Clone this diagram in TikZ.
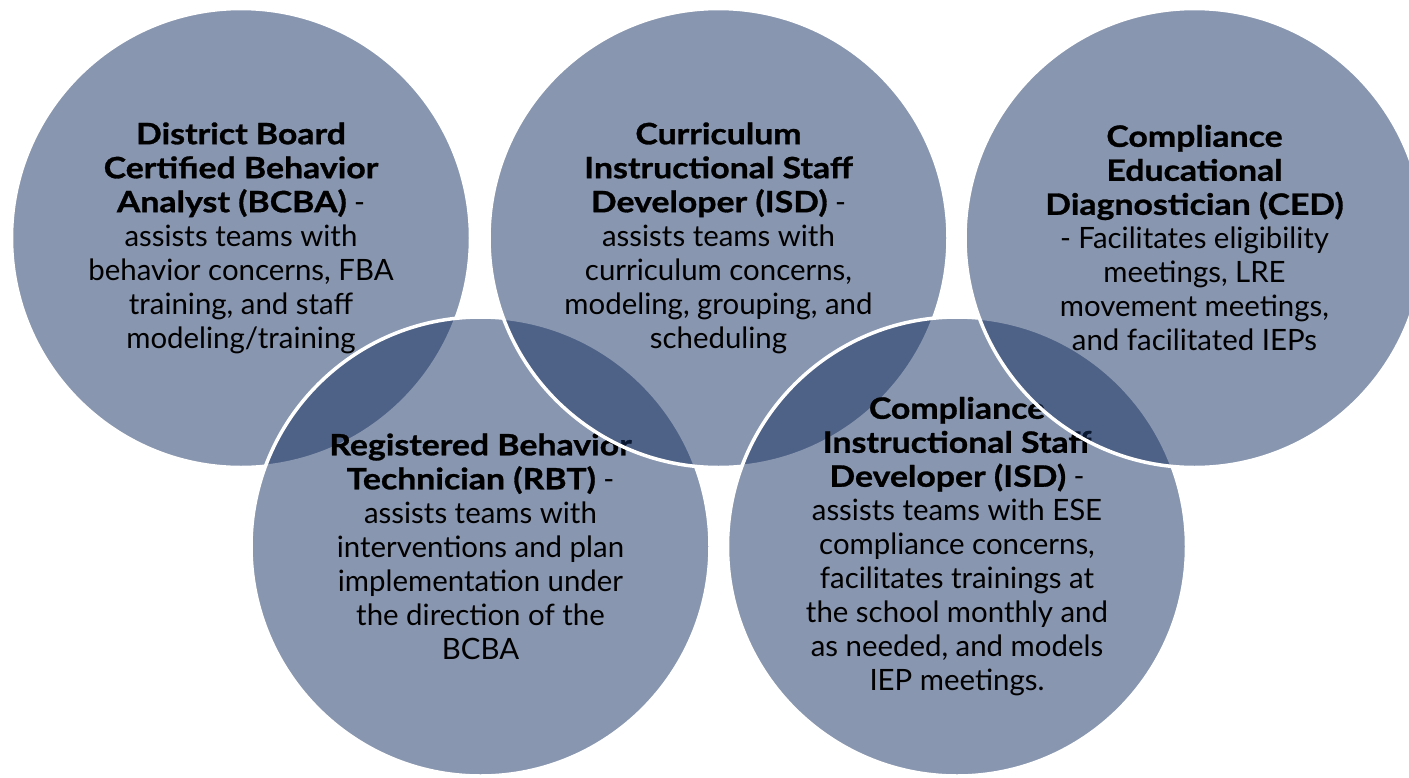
\documentclass[tikz,border=0pt]{standalone}
\usepackage{fontspec}
\setmainfont{Lato}[BoldFeatures={FakeStretch=1.15,FakeBold=1}]
\definecolor{vennc}{HTML}{152F61}
\begin{document}
\begin{tikzpicture}[x=1pt,y=-1pt]
\tikzset{
  venn/.style={circle, minimum size=459pt, inner sep=0pt, fill=vennc,
    fill opacity=0.5, text opacity=1, draw=white, draw opacity=1,
    line width=3.5pt, align=center, text=black,
    font=\fontsize{29.4}{34}\selectfont},
}
\fill[white] (0,0) rectangle (1409,777);
\useasboundingbox (0,0) rectangle (1409,777);
\node[venn] (bcba) at (241,238) {\textbf{District Board}\\ \textbf{Certified Behavior}\\ \textbf{Analyst (BCBA)} -\\ assists teams with\\ behavior concerns, FBA\\ training, and staff\\ modeling/training};
\node[venn] (rbt) at (480.5,546.5) {\textbf{Registered Behavior}\\ \textbf{Technician (RBT)} -\\ assists teams with\\ interventions and plan\\ implementation under\\ the direction of the\\ BCBA};
\node[venn] (cisd) at (718.5,238) {\textbf{Curriculum}\\ \textbf{Instructional Staff}\\ \textbf{Developer (ISD)} -\\ assists teams with\\ curriculum concerns,\\ modeling, grouping, and\\ scheduling};
\node[venn] (compisd) at (957,546.5) {\textbf{Compliance}\\ \textbf{Instructional Staff}\\ \textbf{Developer (ISD)} -\\ assists teams with ESE\\ compliance concerns,\\ facilitates trainings at\\ the school monthly and\\ as needed, and models\\ IEP meetings.};
\node[venn] (ced) at (1194.5,238) {\textbf{Compliance}\\ \textbf{Educational}\\ \textbf{Diagnostician (CED)}\\ - Facilitates eligibility\\ meetings, LRE\\ movement meetings,\\ and facilitated IEPs};
\end{tikzpicture}
\end{document}
